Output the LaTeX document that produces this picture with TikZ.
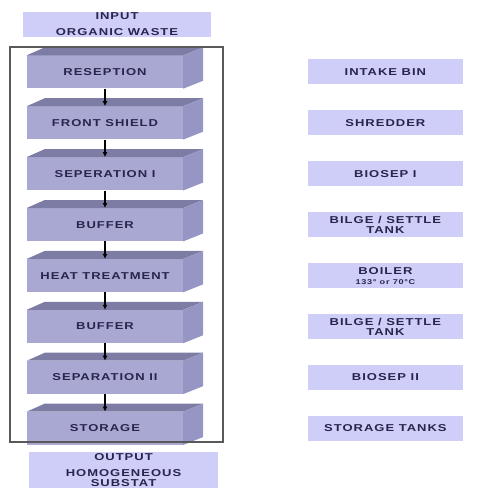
\documentclass[tikz,border=0pt]{standalone}
\usepackage{fontspec}
\newfontfamily\boxfont{Liberation Sans Bold}[FakeStretch=1.3,LetterSpace=10]
\usetikzlibrary{positioning, arrows.meta}
\usetikzlibrary{calc}

\definecolor{frontface}{RGB}{168,168,210}
\definecolor{topface}{RGB}{124,124,164}
\definecolor{sideface}{RGB}{150,150,196}
\definecolor{unitfill}{RGB}{206,206,248}
\definecolor{labeltext}{RGB}{40,36,78}

\tikzset{
  stage/.style={rectangle, fill=frontface, minimum width=156pt, minimum height=33pt,
    inner sep=0pt, text=labeltext, font=\boxfont\fontsize{10}{11}\selectfont},
  unit/.style={rectangle, fill=unitfill, minimum width=155pt, minimum height=25pt,
    inner sep=1pt, align=center, text=labeltext, font=\boxfont\fontsize{10}{10}\selectfont},
  flow/.style={-{Latex[length=5pt,width=5pt]}, line width=1.2pt, black},
  frame/.style={draw=black!65, line width=1.4pt}
}

\begin{document}
\begin{tikzpicture}[x=1pt, y=-1pt]
   \useasboundingbox (0,0) rectangle (483,500);
   % input and output
   \node[unit, minimum width=188pt] (in) at (117,24.5) {INPUT\\[6pt]ORGANIC WASTE};
   \node[unit, minimum width=189pt, minimum height=34pt, font=\boxfont\fontsize{10}{9.8}\selectfont]
        (out) at (123.5,470) {OUTPUT\\[7pt]HOMOGENEOUS\\SUBSTAT};
   % process stages
   \node[stage] (s1) at (105,72) {RESEPTION};
   \node[stage, below = 17.5pt of s1] (s2) {FRONT SHIELD};
   \node[stage, below = 17.5pt of s2] (s3) {SEPERATION I};
   \node[stage, below = 17.5pt of s3] (s4) {BUFFER};
   \node[stage, below = 17.5pt of s4] (s5) {HEAT TREATMENT};
   \node[stage, below = 17.5pt of s5] (s6) {BUFFER};
   \node[stage, below = 17.5pt of s6] (s7) {SEPARATION II};
   \node[stage, below = 17.5pt of s7] (s8) {STORAGE};
   % depth of the stages
   \foreach \n in {s1,s2,s3,s4,s5,s6,s7,s8} {
      \fill[topface] (\n.north west) -- ++(18,-8) -- ($(\n.north east)+(20,-8)$) -- (\n.north east) -- cycle;
      \fill[sideface] (\n.north east) -- ++(20,-8) -- ($(\n.south east)+(20,-8)$) -- (\n.south east) -- cycle;
   }
   % equipment
   \node[unit, right = 124.5pt of s1] (u1) {INTAKE BIN};
   \node[unit, right = 124.5pt of s2] (u2) {SHREDDER};
   \node[unit, right = 124.5pt of s3] (u3) {BIOSEP I};
   \node[unit, right = 124.5pt of s4] (u4) {BILGE / SETTLE\\TANK};
   \node[unit, right = 124.5pt of s5] (u5) {BOILER\\{\fontsize{7}{8}\selectfont 133° or 70°C}};
   \node[unit, right = 124.5pt of s6] (u6) {BILGE / SETTLE\\TANK};
   \node[unit, right = 124.5pt of s7] (u7) {BIOSEP II};
   \node[unit, right = 124.5pt of s8] (u8) {STORAGE TANKS};
   % connect the stages
   \draw[flow] (s1) -- (s2);
   \draw[flow] (s2) -- (s3);
   \draw[flow] (s3) -- (s4);
   \draw[flow] (s4) -- (s5);
   \draw[flow] (s5) -- (s6);
   \draw[flow] (s6) -- (s7);
   \draw[flow] (s7) -- (s8);
   \draw[frame] (10,47) rectangle (223,442);
\end{tikzpicture}
\end{document}
